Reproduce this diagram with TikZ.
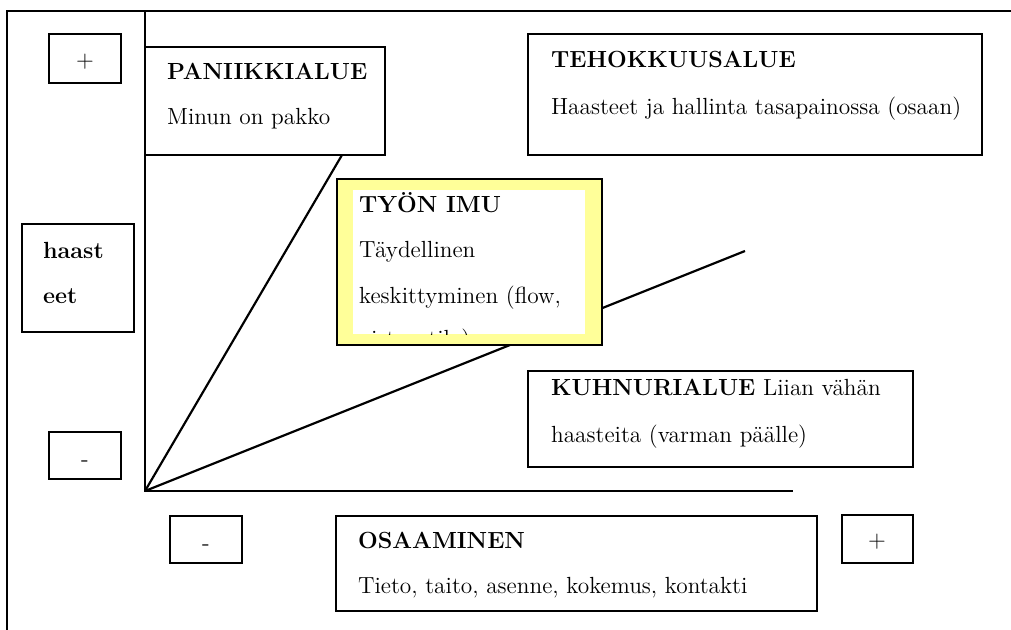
\documentclass[tikz,border=0pt]{standalone}
\usepackage{tikz}
\usetikzlibrary{positioning,fit}
\definecolor{imuyellow}{HTML}{FFFF99}

\begin{document}
\begin{tikzpicture}[x=0.6pt,y=-0.6pt,line width=1.3pt,
  zone/.style={draw,inner sep=0pt},
  txt/.style={anchor=base west,inner sep=0pt,font=\fontsize{14}{16}\selectfont},
  sign/.style={inner sep=0pt,font=\fontsize{14}{16}\selectfont}]
  \useasboundingbox (0,0) rectangle (1011,630);
  % cell frame
  \draw (7,630) |- (1011,11);
  % axes and zone borders
  \coordinate (origo) at (145,491);
  \coordinate (ytop) at (145,11);
  \coordinate (xend) at (793,491);
  \coordinate (panicend) at (342,155);
  \coordinate (boreend) at (745,251);
  \draw (ytop) -- (origo) -- (xend);
  \draw (origo) -- (panicend);
  \draw (origo) -- (boreend);
  % axis boxes
  \node[zone,fit={(49,34) (121,83)}] (yplus) {};
  \node[zone,fit={(49,432) (121,479)}] (yminus) {};
  \node[zone,fit={(22,224) (134,332)}] (haasteet) {};
  \node[zone,fit={(170,516) (242,563)}] (xminus) {};
  \node[zone,fit={(842,515) (913,563)}] (xplus) {};
  \node[sign] (yplussign) at (85,62) {+};
  \node[sign] (yminussign) at (85,464) {-};
  \node[sign] (xminussign) at (206,548) {-};
  \node[sign] (xplussign) at (877,542) {+};
  \node[txt,font=\fontsize{14}{16}\selectfont\bfseries] (haast) at (42,259) {haast};
  \node[txt,font=\fontsize{14}{16}\selectfont\bfseries] (eet) at (42,303) {eet};
  % zones
  \node[zone,fit={(145,47) (385,155)}] (paniikki) {};
  \node[txt] (paniikkihead) at (166,80) {\bfseries PANIIKKIALUE};
  \node[txt] (paniikkitext) at (166,125) {Minun on pakko};
  \node[zone,fit={(528,34) (982,155)}] (tehokkuus) {};
  \node[txt] (tehokkuushead) at (550,68) {\bfseries TEHOKKUUSALUE};
  \node[txt] (tehokkuustext) at (550,115) {Haasteet ja hallinta tasapainossa (osaan)};
  \node[zone,fit={(528,371) (913,467)}] (kuhnuri) {};
  \node[txt] (kuhnurihead) at (550,395) {\textbf{KUHNURIALUE} Liian vähän};
  \node[txt] (kuhnuritext) at (550,442) {haasteita (varman päälle)};
  \node[zone,fit={(336,516) (817,611)}] (osaaminen) {};
  \node[txt] (osaaminenhead) at (357,548) {\bfseries OSAAMINEN};
  \node[txt] (osaaminentext) at (357,593) {Tieto, taito, asenne, kokemus, kontakti};
  % flow box on top
  \node[zone,fill=imuyellow,fit={(337,179) (602,345)}] (imu) {};
  \fill[white] (353,190) rectangle (585,334);
  \begin{scope}
    \clip (353,190) rectangle (585,334);
    \node[txt] (imuhead) at (358,213) {\bfseries TYÖN IMU};
    \node[txt] (imutext1) at (358,258) {Täydellinen};
    \node[txt] (imutext2) at (358,303) {keskittyminen (flow,};
    \node[txt] (imutext3) at (358,346) {virtaustila)};
  \end{scope}
\end{tikzpicture}
\end{document}
